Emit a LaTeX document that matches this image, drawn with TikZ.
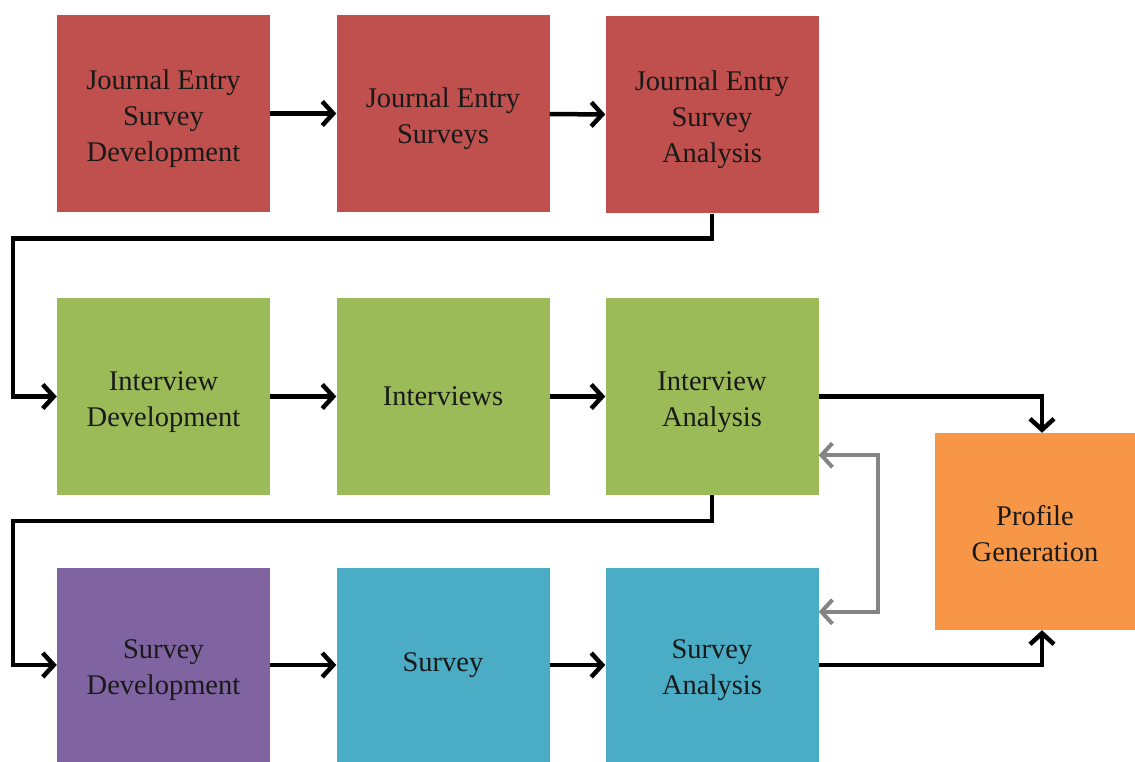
\documentclass[tikz,border=0pt]{standalone}
\usepackage{fontspec}
\setmainfont{Liberation Serif}
\usetikzlibrary{arrows.meta,calc}
\definecolor{cred}{HTML}{C0504D}
\definecolor{cgreen}{HTML}{9BBB59}
\definecolor{cpurple}{HTML}{8064A2}
\definecolor{ccyan}{HTML}{4BACC6}
\definecolor{corange}{HTML}{F79646}
\definecolor{cgray}{HTML}{848484}
\newcommand\topstrut{\rule{0pt}{30pt}}
\newcommand\topstrutb{\rule{0pt}{24pt}}
\begin{document}
\begin{tikzpicture}[x=1pt,y=-1pt,
  box/.style={inner sep=0pt, align=center, minimum width=213pt, minimum height=197pt,
    font=\fontsize{28.5}{36}\selectfont, text=black!90},
  flow/.style={line width=4.5pt, draw=black, -{Straight Barb[length=11pt,width=24pt,line width=4.5pt]}},
  gflow/.style={line width=4pt, draw=cgray, {Straight Barb[length=11pt,width=24pt,line width=4pt]}-{Straight Barb[length=11pt,width=24pt,line width=4pt]}}]
\useasboundingbox (0,0) rectangle (1135,762);
% row 1
\node[box, fill=cred] (b1) at (163.5,113.5) {\topstrut Journal Entry\\Survey\\Development};
\node[box, fill=cred] (b2) at (443,113.5) {\topstrut Journal Entry\\Surveys};
\node[box, fill=cred] (b3) at (712,115) {\topstrut Journal Entry\\Survey\\Analysis};
% row 2
\node[box, fill=cgreen] (b4) at (163.5,396.5) {\topstrut Interview\\Development};
\node[box, fill=cgreen] (b5) at (443,396.5) {Interviews};
\node[box, fill=cgreen] (b6) at (712,396.5) {\topstrut Interview\\Analysis};
% row 3
\node[box, fill=cpurple, minimum height=194pt] (b7) at (163.5,665) {\topstrut Survey\\Development};
\node[box, fill=ccyan, minimum height=194pt] (b8) at (443,665) {Survey};
\node[box, fill=ccyan, minimum height=194pt] (b9) at (712,665) {\topstrut Survey\\Analysis};
% profile
\node[box, fill=corange, minimum width=200pt] (b10) at (1035,531.5) {\topstrutb Profile\\Generation};
% connectors
\draw[flow] (b1) -- (b2);
\draw[flow] (b2) -- (b3);
\draw[flow] (b3.south) -- ++(0,25) -| ($(b4.west)+(-44,0)$) -- (b4.west);
\draw[flow] (b4) -- (b5);
\draw[flow] (b5) -- (b6);
\draw[flow] (b6.south) -- ++(0,26) -| ($(b7.west)+(-44,0)$) -- (b7.west);
\draw[flow] (b7) -- (b8);
\draw[flow] (b8) -- (b9);
\draw[flow] (b6.east) -| ($(b10.north)+(7,0)$);
\draw[flow] (b9.east) -| ($(b10.south)+(7,0)$);
\draw[gflow] ($(b6.south east)+(0,-40)$) -- ++(59,0) |- ($(b9.north east)+(0,44)$);
\end{tikzpicture}
\end{document}
